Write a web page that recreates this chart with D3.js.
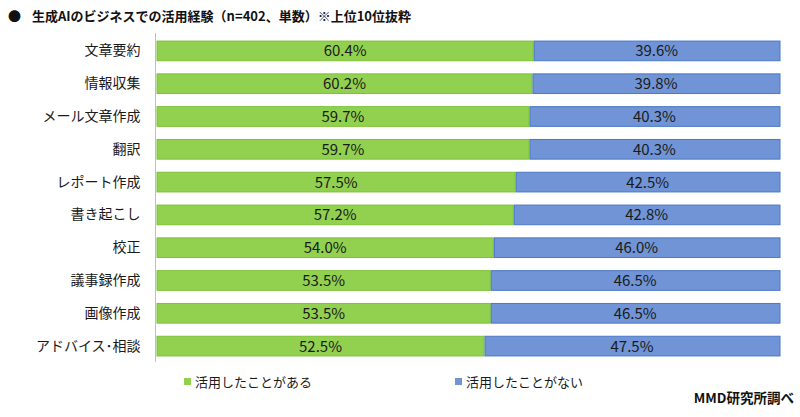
<!DOCTYPE html>
<html>
<head>
<meta charset="utf-8">
<script src="https://cdn.jsdelivr.net/npm/d3@7"></script>
<style>
  body { margin: 0; background: #fff; }
  svg text { font-family: "Noto Sans CJK JP", "Noto Sans", sans-serif; }
</style>
</head>
<body>
<div id="chart"></div>
<script>
// data
var categories = ['文章要約', '情報収集', 'メール文章作成', '翻訳', 'レポート作成', '書き起こし', '校正', '議事録作成', '画像作成', 'アドバイス･相談'];
var usedValues = [60.4, 60.2, 59.7, 59.7, 57.5, 57.2, 54.0, 53.5, 53.5, 52.5];
var notUsedValues = [39.6, 39.8, 40.3, 40.3, 42.5, 42.8, 46.0, 46.5, 46.5, 47.5];
var seriesNames = ['活用したことがある', '活用したことがない'];
var colors = ['#92D050', '#7094D5'];
var strokes = ['#7CC235', '#4A78C8'];

var w = 800, h = 417;
var svg = d3.select('#chart').append('svg')
    .attr('width', w)
    .attr('height', h);

// title
svg.append('text')
    .attr('x', 8).attr('y', 21)
    .attr('font-size', 13).attr('fill', '#111')
    .text('●');
svg.append('text')
    .attr('x', 32).attr('y', 21)
    .attr('font-size', 13).attr('font-weight', 'bold').attr('fill', '#111')
    .text('生成AIのビジネスでの活用経験（n=402、単数）※上位10位抜粋');

var x = d3.scaleLinear().domain([0, 100]).range([157, 780]);
var y = d3.scaleBand().domain(categories).range([34.5, 362.5]).paddingInner(0.4).paddingOuter(0.2);

var rows = categories.map(function(c, i) {
    return { cat: c, a: usedValues[i], b: notUsedValues[i] };
});

var g = svg.append('g');

// green part
g.selectAll('rect.used')
    .data(rows).enter().append('rect')
    .attr('class', 'used')
    .attr('x', x(0))
    .attr('y', function(d) { return y(d.cat); })
    .attr('width', function(d) { return x(d.a) - x(0); })
    .attr('height', y.bandwidth())
    .attr('fill', colors[0])
    .attr('stroke', strokes[0])
    .attr('stroke-width', 1);

// blue part
g.selectAll('rect.notused')
    .data(rows).enter().append('rect')
    .attr('class', 'notused')
    .attr('x', function(d) { return x(d.a) + 1; })
    .attr('y', function(d) { return y(d.cat); })
    .attr('width', function(d) { return x(d.a + d.b) - x(d.a) - 1; })
    .attr('height', y.bandwidth())
    .attr('fill', colors[1])
    .attr('stroke', strokes[1])
    .attr('stroke-width', 1);

// value labels
g.selectAll('text.va')
    .data(rows).enter().append('text')
    .attr('class', 'va')
    .attr('x', function(d) { return (x(0) + x(d.a)) / 2; })
    .attr('y', function(d) { return y(d.cat) + y.bandwidth() / 2; })
    .attr('dy', '0.36em')
    .attr('text-anchor', 'middle')
    .attr('font-size', 15).attr('fill', '#1a1a1a')
    .text(function(d) { return d.a.toFixed(1) + '%'; });

g.selectAll('text.vb')
    .data(rows).enter().append('text')
    .attr('class', 'vb')
    .attr('x', function(d) { return (x(d.a) + x(d.a + d.b)) / 2; })
    .attr('y', function(d) { return y(d.cat) + y.bandwidth() / 2; })
    .attr('dy', '0.36em')
    .attr('text-anchor', 'middle')
    .attr('font-size', 15).attr('fill', '#1a1a1a')
    .text(function(d) { return d.b.toFixed(1) + '%'; });

// category axis
var axis = d3.axisLeft(y).tickSize(0).tickPadding(15);
var ax = svg.append('g')
    .attr('transform', 'translate(' + 155.5 + ',0)')
    .call(axis);
ax.select('.domain').attr('stroke', '#bfbfbf').attr('d', 'M0,33V362');
ax.selectAll('text')
    .attr('font-size', 14).attr('fill', '#1a1a1a')
    .attr('font-family', '"Noto Sans CJK JP", sans-serif');

// legend
var legX = [184, 455];
var leg = svg.selectAll('g.leg')
    .data(seriesNames).enter().append('g')
    .attr('class', 'leg')
    .attr('transform', function(d, i) { return 'translate(' + legX[i] + ',378)'; });
leg.append('rect')
    .attr('width', 7).attr('height', 7)
    .attr('fill', function(d, i) { return colors[i]; });
leg.append('text')
    .attr('x', 11).attr('y', 4)
    .attr('dy', '0.36em')
    .attr('font-size', 13).attr('fill', '#1a1a1a')
    .text(function(d) { return d; });

// source
svg.append('text')
    .attr('x', 794).attr('y', 398)
    .attr('dy', '0.36em')
    .attr('text-anchor', 'end')
    .attr('font-size', 13.5).attr('font-weight', 'bold').attr('fill', '#111')
    .text('MMD研究所調べ');
</script>
</body>
</html>
